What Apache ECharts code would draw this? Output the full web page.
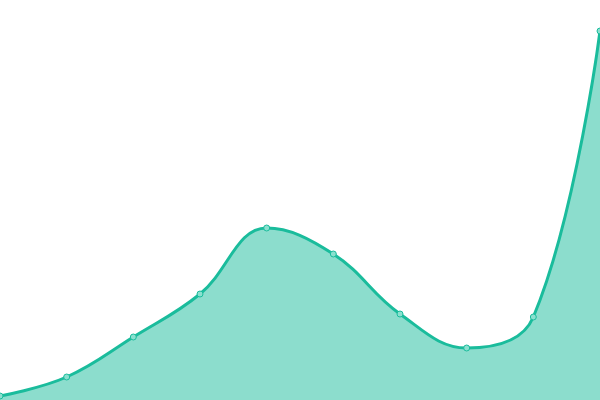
<!DOCTYPE html>
<html><head><meta charset="utf-8">
<script src="https://cdn.jsdelivr.net/npm/echarts@6/dist/echarts.min.js"></script>
<style>html,body{margin:0;padding:0;background:#fff}#c{width:600px;height:400px}</style>
</head><body><div id="c"></div>
<script>
var categories = ['1','2','3','4','5','6','7','8','9','10'];
var values = [4, 23, 63, 106, 172, 146, 86, 52, 83, 369];
var chart = echarts.init(document.getElementById('c'));
chart.setOption({
  animation: false,
  grid: {left: 0, right: 0, top: 0, bottom: 0},
  xAxis: {type: 'category', data: categories, boundaryGap: false, show: false},
  yAxis: {type: 'value', min: 0, max: 400, show: false},
  series: [{
    type: 'line', data: values, smooth: 0.4,
    symbol: 'circle', symbolSize: 6,
    lineStyle: {color: '#1abc9c', width: 3},
    itemStyle: {color: '#8ae0cf', borderColor: '#1abc9c', borderWidth: 1},
    areaStyle: {color: '#1abc9c', opacity: 0.5}
  }]
});
</script></body></html>
